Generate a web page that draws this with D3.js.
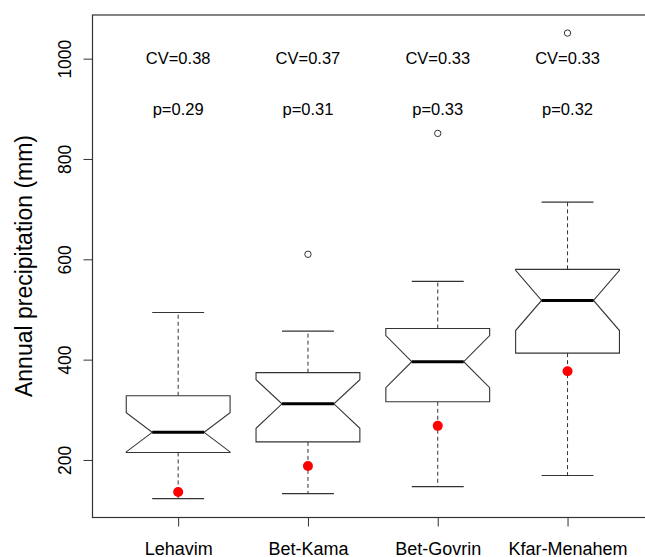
<!DOCTYPE html>
<html>
<head>
<meta charset="utf-8">
<script src="https://cdn.jsdelivr.net/npm/d3@7"></script>
<style>
  body { margin: 0; background: #fff; }
  .chart text { font-family: "Liberation Sans", Arial, sans-serif; fill: #000; }
</style>
</head>
<body>
<div class="chart"></div>
<script>
var sites = ["Lehavim", "Bet-Kama", "Bet-Govrin", "Kfar-Menahem"]
var whisker_low = [123, 133, 147, 169]
var q1 = [215, 236, 316, 413]
var median = [255, 312, 396, 518]
var q3 = [328, 374, 462, 580]
var whisker_high = [494, 457, 556, 714]
var notch_low = [216, 263, 344, 458]
var notch_high = [294, 360, 448, 578]
var outliers = [[], [610], [851], [1051]]
var red_points = [136, 188, 268, 377]
var cv = ["CV=0.38", "CV=0.37", "CV=0.33", "CV=0.33"]
var pval = ["p=0.29", "p=0.31", "p=0.33", "p=0.32"]
var y_ticks = [200, 400, 600, 800, 1000]

let svg = d3.select('div.chart').append('svg')
  .attr("width", 645)
  .attr("height", 557)

var line_col = "#333"

//Scale
let x = d3.scaleLinear()
  .domain([0.34, 4.66])
  .range([92.5, 653.2]);

let y = d3.scaleLinear()
  .domain([85.3, 1087])
  .range([517.5, 15]);

var half = x(1.4) - x(1)

//frame
svg.append('rect')
  .attr('x', x(0.34))
  .attr('y', y(1087))
  .attr('width', x(4.66) - x(0.34))
  .attr('height', y(85.3) - y(1087))
  .attr('fill', 'none')
  .attr('stroke', line_col)
  .attr('stroke-width', 1.2)

//Axis_y
let yAxis = svg.append('g')
  .attr("transform", "translate(" + x(0.34) + ",0)")
  .call(d3.axisLeft(y).tickValues(y_ticks).tickSize(9).tickSizeOuter(0).tickFormat(d => d))
yAxis.select('.domain').remove()
yAxis.selectAll('line').attr('stroke', line_col)
yAxis.selectAll('text')
  .attr('x', null).attr('dy', null)
  .attr('transform', 'translate(-22,0) rotate(-90)')
  .attr('text-anchor', 'middle')
  .style('font-size', '17.5px')

svg.append("text")
  .attr("transform", "translate(32,266) rotate(-90)")
  .attr("text-anchor", "middle")
  .style("font-size", "23px")
  .text("Annual precipitation (mm)");

//Axis_x
let xAxis = svg.append('g')
  .attr("transform", "translate(0," + y(85.3) + ")")
  .call(d3.axisBottom(x).tickValues([1, 2, 3, 4]).tickSize(9).tickSizeOuter(0)
    .tickFormat((d, i) => sites[i]))
xAxis.select('.domain').remove()
xAxis.selectAll('line').attr('stroke', line_col)
xAxis.selectAll('text')
  .attr('y', 37).attr('dy', null)
  .style('font-size', '18px')

//boxes
sites.forEach((s, i) => {
  var cx = x(i + 1)
  var g = svg.append('g')

  // whiskers
  g.append('line')
    .attr('x1', cx).attr('x2', cx)
    .attr('y1', y(q3[i])).attr('y2', y(whisker_high[i]))
    .attr('stroke', line_col).attr('stroke-dasharray', '4,3')
  g.append('line')
    .attr('x1', cx).attr('x2', cx)
    .attr('y1', y(q1[i])).attr('y2', y(whisker_low[i]))
    .attr('stroke', line_col).attr('stroke-dasharray', '4,3')

  // staples
  ;[whisker_high[i], whisker_low[i]].forEach(v => {
    g.append('line')
      .attr('x1', cx - half / 2).attr('x2', cx + half / 2)
      .attr('y1', y(v)).attr('y2', y(v))
      .attr('stroke', line_col).attr('stroke-width', 1.2)
  })

  // notched box
  var pts = [
    [cx - half, y(q1[i])], [cx - half, y(notch_low[i])], [cx - half / 2, y(median[i])],
    [cx - half, y(notch_high[i])], [cx - half, y(q3[i])], [cx + half, y(q3[i])],
    [cx + half, y(notch_high[i])], [cx + half / 2, y(median[i])], [cx + half, y(notch_low[i])],
    [cx + half, y(q1[i])]
  ]
  g.append('polygon')
    .attr('points', pts.map(p => p.join(',')).join(' '))
    .attr('fill', 'white')
    .attr('stroke', line_col)
    .attr('stroke-width', 1.1)

  // median
  g.append('line')
    .attr('x1', cx - half / 2).attr('x2', cx + half / 2)
    .attr('y1', y(median[i])).attr('y2', y(median[i]))
    .attr('stroke', '#000').attr('stroke-width', 3)

  // outliers
  outliers[i].forEach(v => {
    g.append('circle')
      .attr('cx', cx).attr('cy', y(v)).attr('r', 3.2)
      .attr('fill', 'none').attr('stroke', line_col)
  })

  // red point
  g.append('circle')
    .attr('cx', cx).attr('cy', y(red_points[i])).attr('r', 5)
    .attr('fill', 'red')

  //tag
  g.append('text')
    .attr('x', cx).attr('y', y(1000)).attr('dy', '0.35em')
    .attr('text-anchor', 'middle')
    .style('font-size', '16.5px')
    .text(cv[i])
  g.append('text')
    .attr('x', cx).attr('y', y(900)).attr('dy', '0.35em')
    .attr('text-anchor', 'middle')
    .style('font-size', '16.5px')
    .text(pval[i])
})
</script>
</body>
</html>
